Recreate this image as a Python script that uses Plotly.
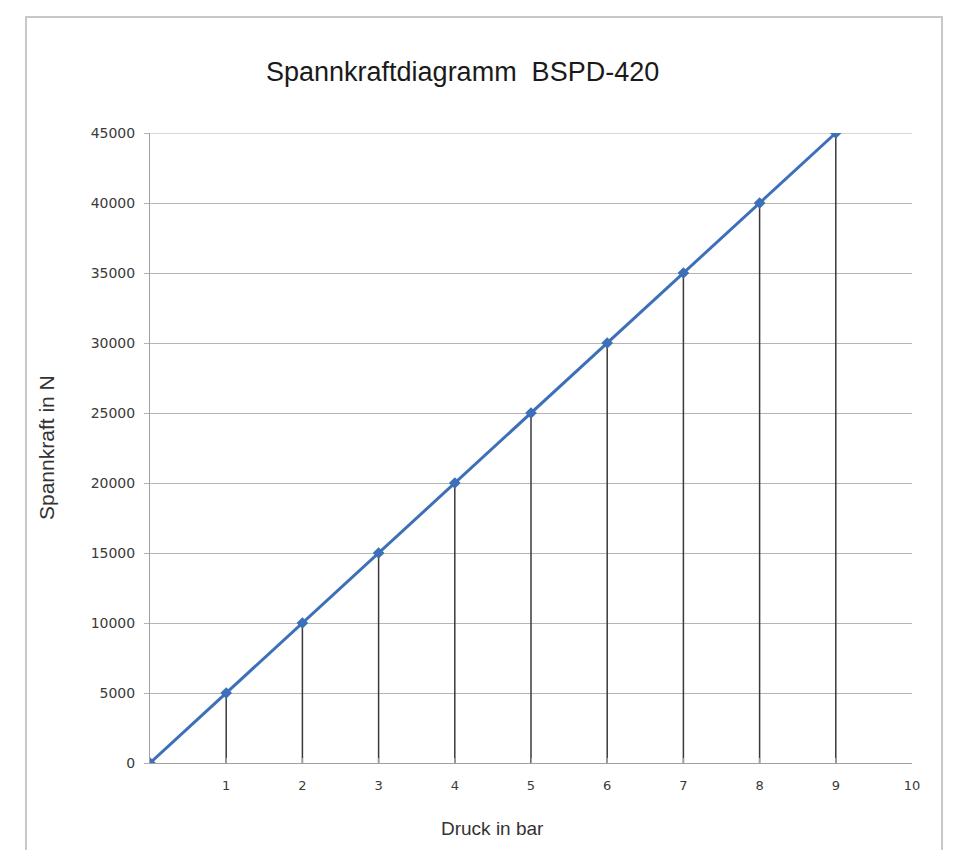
import plotly.graph_objects as go

druck = [0, 1, 2, 3, 4, 5, 6, 7, 8, 9]
spannkraft = [0, 5000, 10000, 15000, 20000, 25000, 30000, 35000, 40000, 45000]
x_ticks = [1, 2, 3, 4, 5, 6, 7, 8, 9, 10]
y_ticks = [0, 5000, 10000, 15000, 20000, 25000, 30000, 35000, 40000, 45000]

OFF = 8  # page body offset
W, H = 963, 850
L, R, T, B = 150 - OFF, 51 + OFF, 133 - OFF, 87 + OFF
pw, ph = W - L - R, H - T - B

def px(x):
    return (x - OFF - L) / pw

def py(y):
    return (H - B - (y - OFF)) / ph

fig = go.Figure()
fig.add_trace(go.Scatter(
    x=druck, y=spannkraft, mode="lines+markers",
    line=dict(color="#3d70b8", width=3),
    marker=dict(symbol="diamond", size=9, color="#3d70b8"),
    error_y=dict(type="data", symmetric=False, array=[0] * len(spannkraft),
                 arrayminus=spannkraft, color="#3a3a3a", thickness=1.5, width=0),
    showlegend=False, hoverinfo="x+y",
))

fig.update_layout(
    width=W, height=H,
    margin=dict(l=L, r=R, t=T, b=B),
    paper_bgcolor="white", plot_bgcolor="white",
    font=dict(family="Liberation Sans, Arial, sans-serif", color="#333333"),
    xaxis=dict(range=[0, 10], tickvals=x_ticks, showgrid=False, zeroline=False,
               showline=True, linecolor="#a0a0a0", linewidth=1,
               ticks="inside", ticklen=5, tickcolor="#a0a0a0", ticklabelstandoff=10,
               tickfont=dict(size=13, color="#3a3a3a", family="DejaVu Sans"), fixedrange=True),
    yaxis=dict(range=[0, 45000], tickvals=y_ticks, ticktext=[str(v) for v in y_ticks],
               showgrid=True, gridcolor="#b4b4b4",
               gridwidth=1, zeroline=False, showline=True, linecolor="#a0a0a0", linewidth=1,
               ticks="outside", ticklen=5, tickcolor="#b4b4b4", ticklabelstandoff=6,
               tickfont=dict(size=14, color="#3a3a3a", family="DejaVu Sans"), fixedrange=True),
    annotations=[
        dict(text="Spannkraftdiagramm  BSPD-420", x=px(462), y=py(72), xref="paper", yref="paper",
             showarrow=False, xanchor="center", yanchor="middle",
             font=dict(size=27, color="#1a1a1a")),
        dict(text="Druck in bar", x=px(492), y=py(828), xref="paper", yref="paper",
             showarrow=False, xanchor="center", yanchor="middle",
             font=dict(size=19, color="#333333")),
        dict(text="Spannkraft in N", x=px(46), y=py(448), xref="paper", yref="paper",
             showarrow=False, xanchor="center", yanchor="middle", textangle=-90,
             font=dict(size=21, color="#333333")),
    ],
    shapes=[
        dict(type="rect", xref="paper", yref="paper", x0=px(26), x1=px(942), y0=py(870), y1=py(17),
             line=dict(color="#c8c8c8", width=2), fillcolor="rgba(0,0,0,0)", layer="below"),
        dict(type="line", xref="paper", yref="y", x0=0, x1=1, y0=y_ticks[-1], y1=y_ticks[-1],
             line=dict(color="#b4b4b4", width=1), layer="below"),
    ],
)

fig.write_html("out.html")
